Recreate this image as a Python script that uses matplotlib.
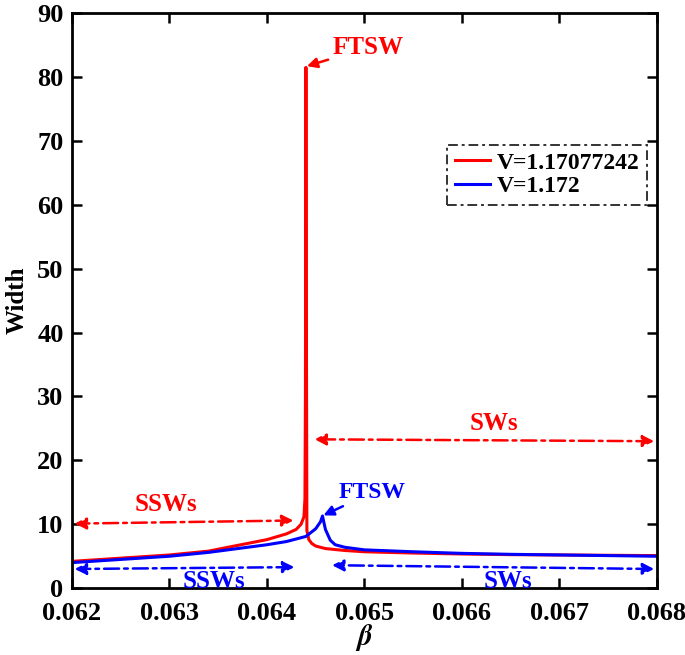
import numpy as np
import matplotlib.pyplot as plt

# red curve, V=1.17077242
beta_r = [0.0620, 0.0625, 0.0630, 0.0634, 0.0638, 0.0640, 0.0642, 0.0643, 0.06435, 0.06438,
          0.06439, 0.064395, 0.06440, 0.064405, 0.06441, 0.06443, 0.06446, 0.0645, 0.0646,
          0.0648, 0.0650, 0.0655, 0.0660, 0.0665, 0.0670, 0.0675, 0.0680]
width_r = [4.2, 4.7, 5.2, 5.8, 7.0, 7.6, 8.5, 9.2, 10.0, 11.2,
           14.0, 30.0, 81.5, 40.0, 9.0, 7.6, 7.0, 6.6, 6.2,
           5.9, 5.7, 5.5, 5.35, 5.25, 5.2, 5.15, 5.1]

# blue curve, V=1.172
beta_b = [0.0620, 0.0625, 0.0630, 0.0634, 0.0638, 0.0640, 0.0642, 0.0644, 0.0645, 0.06455,
          0.06457, 0.06460, 0.06465, 0.0647, 0.0648, 0.0650, 0.0655, 0.0660, 0.0665, 0.0670,
          0.0675, 0.0680]
width_b = [4.0, 4.5, 5.0, 5.6, 6.4, 6.8, 7.3, 8.1, 9.3, 10.4,
           11.3, 9.2, 7.5, 6.8, 6.4, 6.0, 5.7, 5.45, 5.3, 5.2,
           5.1, 5.0]

plt.rcParams['font.family'] = 'Liberation Serif'
plt.rcParams['font.weight'] = 'bold'
plt.rcParams['mathtext.fontset'] = 'stix'

fig = plt.figure(figsize=(6.85, 6.55), dpi=100)
ax = fig.add_axes([0.105, 0.102, 0.854, 0.878])

ax.plot(beta_r, width_r, color='red', lw=2.2, label='V=1.17077242')
ax.plot(beta_b, width_b, color='blue', lw=2.2, label='V=1.172')

ax.set_xlim(0.062, 0.068)
ax.set_ylim(0, 90)
ax.set_xticks(np.arange(0.062, 0.06801, 0.001))
ax.set_xticklabels(['0.062', '0.063', '0.064', '0.065', '0.066', '0.067', '0.068'])
ax.set_yticks(range(0, 91, 10))
ax.tick_params(direction='in', top=True, right=True, width=1.8, length=7, labelsize=19)
ax.tick_params(axis='x', pad=10)
ax.tick_params(axis='y', pad=6)
for s in ax.spines.values():
    s.set_linewidth(2)
ax.set_xlabel(r'$\beta$', fontsize=21, labelpad=-2)
ax.set_ylabel('Width', fontsize=18, fontweight='bold', labelpad=6)

dd = dict(arrowstyle='<|-|>', linestyle=(0, (6, 2, 1.5, 2)), lw=1.8, mutation_scale=17)

# red annotations
ax.annotate('FTSW', xy=(0.06441, 81.7), xytext=(0.06467, 84.6), color='red', fontsize=18,
            fontweight='bold', va='center',
            arrowprops=dict(arrowstyle='-|>', color='red', lw=1.8, mutation_scale=15,
                            shrinkA=1, shrinkB=0))
ax.annotate('', xy=(0.06446, 23.3), xytext=(0.0680, 23.0),
            arrowprops=dict(color='red', **dd))
ax.text(0.06633, 25.8, 'SWs', color='red', fontsize=18, ha='center', va='center')
ax.annotate('', xy=(0.0620, 10.1), xytext=(0.06430, 10.6),
            arrowprops=dict(color='red', **dd))
ax.text(0.06296, 13.1, 'SSWs', color='red', fontsize=18, ha='center', va='center')

# blue annotations
ax.annotate('FTSW', xy=(0.06458, 11.4), xytext=(0.06474, 15.0), color='blue', fontsize=17,
            fontweight='bold', va='center',
            arrowprops=dict(arrowstyle='-|>', color='blue', lw=1.8, mutation_scale=15,
                            shrinkA=1, shrinkB=0))
ax.annotate('', xy=(0.0620, 3.0), xytext=(0.06431, 3.3),
            arrowprops=dict(color='blue', **dd))
ax.text(0.06346, 1.0, 'SSWs', color='blue', fontsize=18, ha='center', va='center')
ax.annotate('', xy=(0.06464, 3.6), xytext=(0.0680, 3.0),
            arrowprops=dict(color='blue', **dd))
ax.text(0.06647, 1.1, 'SWs', color='blue', fontsize=18, ha='center', va='center')

leg = ax.legend(loc='upper right', bbox_to_anchor=(0.995, 0.783), fontsize=17,
                frameon=True, fancybox=False, handlelength=1.5, borderpad=0.3,
                labelspacing=0.1, handletextpad=0.3, borderaxespad=0.3)
frame = leg.get_frame()
frame.set_edgecolor('black')
frame.set_linestyle((0, (5, 2, 1.5, 2)))
frame.set_linewidth(1.4)

fig.savefig('out.png', dpi=100)
